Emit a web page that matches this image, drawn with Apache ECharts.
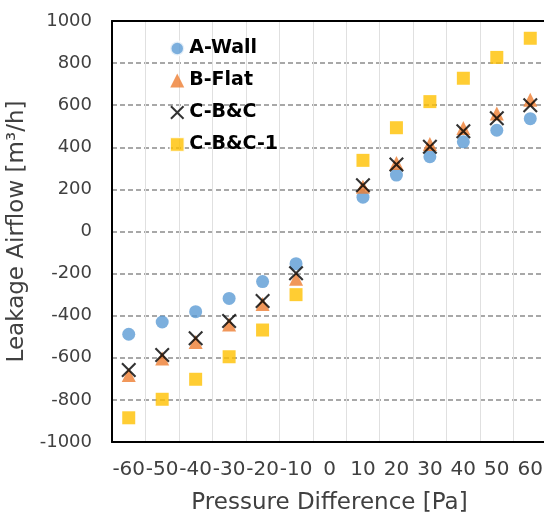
<!DOCTYPE html>
<html>
<head>
<meta charset="utf-8">
<script src="https://cdn.jsdelivr.net/npm/echarts@6/dist/echarts.min.js"></script>
<style>
  html, body { margin: 0; padding: 0; background: #fff; }
  #chart { width: 544px; height: 516px; }
</style>
</head>
<body>
<div id="chart"></div>
<script>
  const pressure = ['-60', '-50', '-40', '-30', '-20', '-10', '0', '10', '20', '30', '40', '50', '60']
  // '-' = no measurement at 0 Pa
  const aWall = [-488, -430, -381, -318, -238, -153, '-', 163, 268, 355, 426, 481, 536]
  const bFlat = [-682, -603, -525, -442, -345, -225, '-', 212, 326, 416, 492, 560, 626]
  const cBC = [-658, -587, -507, -425, -330, -198, '-', 220, 318, 403, 476, 538, 600]
  const cBC1 = [-885, -797, -702, -595, -468, -300, '-', 338, 493, 617, 728, 827, 918]
  const yTicks = { min: -1000, max: 1000, interval: 200 }

  // excel style "x" marker
  const crossPath = 'path://M0,2 L2,0 L10,8 L18,0 L20,2 L12,10 L20,18 L18,20 L10,12 L2,20 L0,18 L8,10 Z'
  const font = 'DejaVu Sans, Liberation Sans, sans-serif'

  const chart = echarts.init(document.getElementById('chart'))

  chart.setOption({
    animation: false,
    grid: { left: 112, top: 21, right: -3, bottom: 74, outerBoundsMode: 'none', containLabel: false },
    legend: {
      orient: 'vertical',
      left: 164,
      top: 34,
      itemGap: 13,
      itemWidth: 14,
      itemHeight: 14,
      textStyle: { fontFamily: font, fontSize: 19, fontWeight: 'bold', color: '#000' },
      data: [
        { name: 'A-Wall', icon: 'circle', itemStyle: { borderWidth: 2.5, borderColor: '#fff' } },
        { name: 'B-Flat', icon: 'triangle' },
        { name: 'C-B&C', icon: crossPath, itemStyle: { color: '#000', borderWidth: 0 } },
        { name: 'C-B&C-1', icon: 'rect', itemStyle: { borderWidth: 1.5, borderColor: '#fff' } }
      ]
    },
    xAxis: [{
      type: 'category',
      data: pressure,
      boundaryGap: true,
      name: 'Pressure Difference [Pa]',
      nameLocation: 'middle',
      nameGap: 50,
      nameTextStyle: { fontFamily: font, fontSize: 23, color: '#404040' },
      axisLine: { onZero: false, lineStyle: { color: '#000', width: 2 } },
      axisTick: { show: false },
      axisLabel: { margin: 18, interval: 0, fontFamily: font, fontSize: 20, color: '#404040' },
      splitLine: { show: true, lineStyle: { color: '#e0e0e0', width: 1 } }
    }, {
      type: 'category',
      data: pressure,
      position: 'top',
      axisLine: { onZero: false, lineStyle: { color: '#000', width: 2 } },
      axisTick: { show: false },
      axisLabel: { show: false },
      splitLine: { show: false }
    }],
    yAxis: {
      type: 'value',
      min: yTicks.min,
      max: yTicks.max,
      interval: yTicks.interval,
      name: 'Leakage Airflow [m³/h]',
      nameLocation: 'middle',
      nameGap: 82,
      nameTextStyle: { fontFamily: font, fontSize: 23, color: '#404040' },
      axisLine: { show: true, lineStyle: { color: '#000', width: 2 } },
      axisTick: { show: false },
      axisLabel: { margin: 20, formatter: v => String(v), fontFamily: font, fontSize: 18, color: '#404040' },
      splitLine: { show: true, lineStyle: { color: '#8c8c8c', type: [5, 3], width: 1.5 } }
    },
    series: [
      {
        name: 'A-Wall', type: 'scatter', data: aWall,
        symbol: 'circle', symbolSize: 13,
        itemStyle: { color: '#5b9bd5' }
      },
      {
        name: 'B-Flat', type: 'scatter', data: bFlat,
        symbol: 'triangle', symbolSize: 14,
        itemStyle: { color: '#ed7d31' }
      },
      {
        name: 'C-B&C', type: 'scatter', data: cBC,
        symbol: crossPath, symbolSize: 15,
        itemStyle: { color: '#000' }
      },
      {
        name: 'C-B&C-1', type: 'scatter', data: cBC1,
        symbol: 'rect', symbolSize: 13,
        itemStyle: { color: '#ffc000' }
      }
    ]
  })
</script>
</body>
</html>
